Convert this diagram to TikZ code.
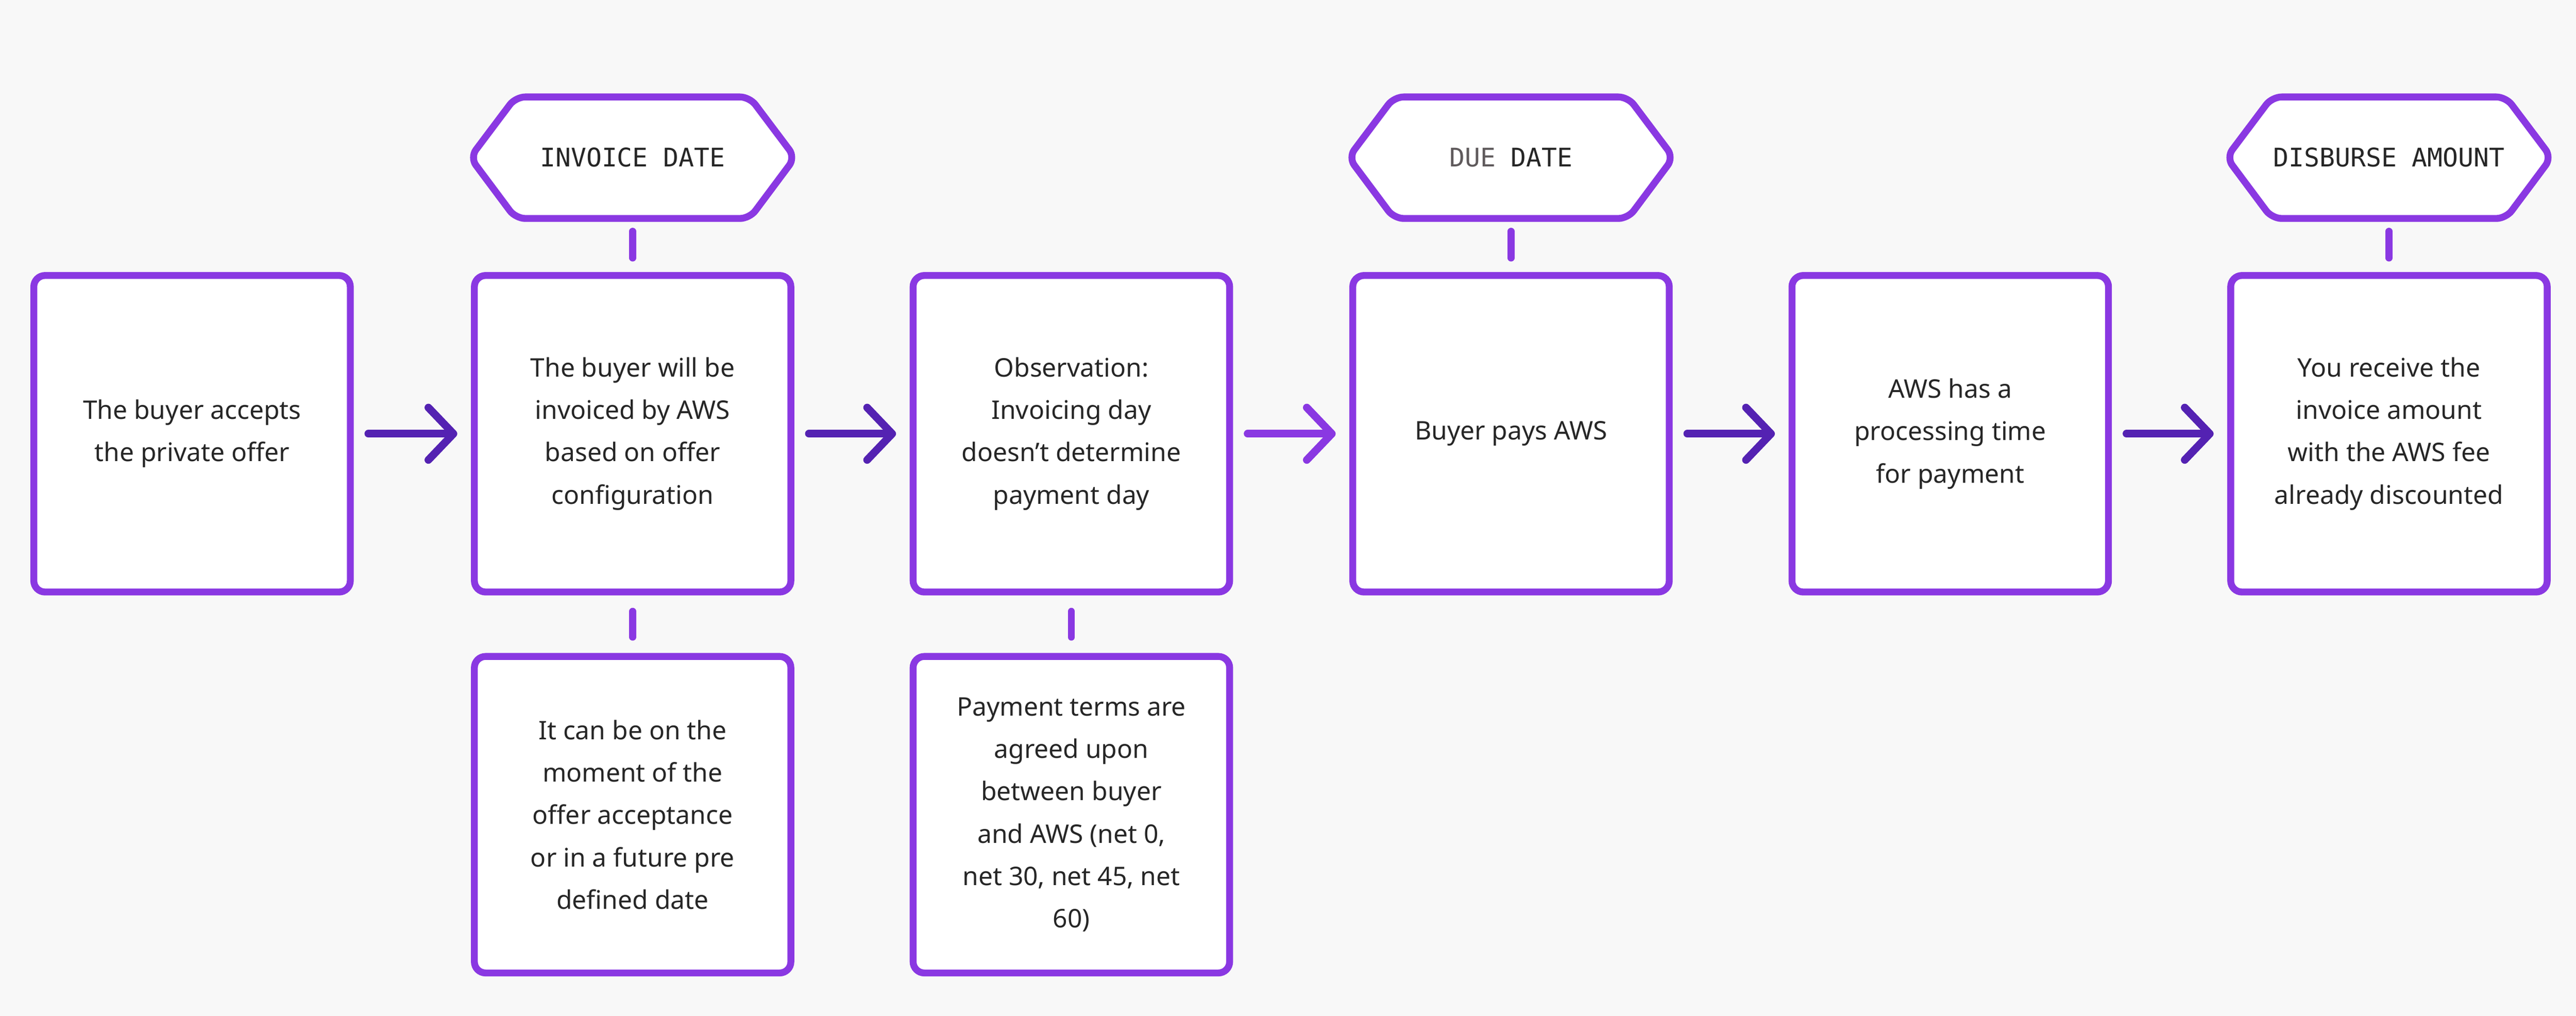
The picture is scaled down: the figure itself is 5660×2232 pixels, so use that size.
\documentclass[tikz,border=0pt]{standalone}
\usepackage{fontspec}
\setmainfont{Noto Sans}
\setmonofont{DejaVu Sans Mono}
\usetikzlibrary{arrows.meta,calc}
\definecolor{bg}{RGB}{248,248,248}
\definecolor{vio}{RGB}{138,56,226}
\definecolor{dvio}{RGB}{84,34,178}
\definecolor{txt}{RGB}{38,38,38}
\definecolor{gtxt}{RGB}{95,90,92}
\begin{document}
\begin{tikzpicture}[x=0.01cm,y=-0.01cm,
  box/.style={draw=vio,line width=4.3pt,fill=white,rounded corners=7pt,minimum width=6.95cm,minimum height=6.95cm,align=center,text=txt,font=\fontsize{16}{26.5}\selectfont,inner sep=0pt},
  hex/.style={font=\ttfamily\fontsize{16}{20}\selectfont,text=txt,inner sep=0pt},
  hexline/.style={draw=vio,line width=4.3pt,fill=white,rounded corners=6pt},
  stub/.style={draw=vio,line width=4.3pt,line cap=round},
  arr/.style={draw=dvio,line width=4.8pt,line cap=round,-{Straight Barb[length=0.55cm,width=1.15cm,round]},shorten <=0.32cm,shorten >=0.3cm},
  larr/.style={arr,draw=vio}]
\fill[bg] (0,0) rectangle (5660,2232);
\useasboundingbox (0,0) rectangle (5660,2232);
\node[box] (b1) at (422,953) {The buyer accepts\\the private offer};
\node[box] (b2) at (1390,953) {The buyer will be\\invoiced by AWS\\based on offer\\configuration};
\node[box] (b3) at (2354,953) {Observation:\\Invoicing day\\doesn't determine\\payment day};
\node[box] (b4) at (3320,953) {Buyer pays AWS};
\node[box] (b5) at (4285,953) {AWS has a\\processing time\\for payment};
\node[box] (b6) at (5249,953) {You receive the\\invoice amount\\with the AWS fee\\already discounted};
\node[box] (l2) at (1390,1790) {It can be on the\\moment of the\\offer acceptance\\or in a future pre\\defined date};
\node[box] (l3) at (2354,1790) {Payment terms are\\agreed upon\\between buyer\\and AWS (net 0,\\net 30, net 45, net\\60)};
\foreach \c/\n in {1390/h2,3320/h4,5249/h6}{
  \draw[hexline] (\c-357,346) -- (\c-257,213) -- (\c+257,213) -- (\c+357,346) -- (\c+257,480) -- (\c-257,480) -- cycle;
}
\node[hex] (h2) at (1390,346) {INVOICE DATE};
\node[hex] (h4) at (3320,346) {\textcolor{gtxt}{\textmd{DUE}} DATE};
\node[hex] (h6) at (5249,346) {DISBURSE AMOUNT};
\foreach \h/\b in {h2/b2,h4/b4,h6/b6}{
  \draw[stub] (\h|-0,508) -- (\b|-0,567);
}
\draw[stub] (b2|-0,1343) -- (l2|-0,1400);
\draw[stub] (b3|-0,1343) -- (l3|-0,1400);
\draw[arr] (b1) -- (b2);
\draw[arr] (b2) -- (b3);
\draw[larr] (b3) -- (b4);
\draw[arr] (b4) -- (b5);
\draw[arr] (b5) -- (b6);
\end{tikzpicture}
\end{document}
